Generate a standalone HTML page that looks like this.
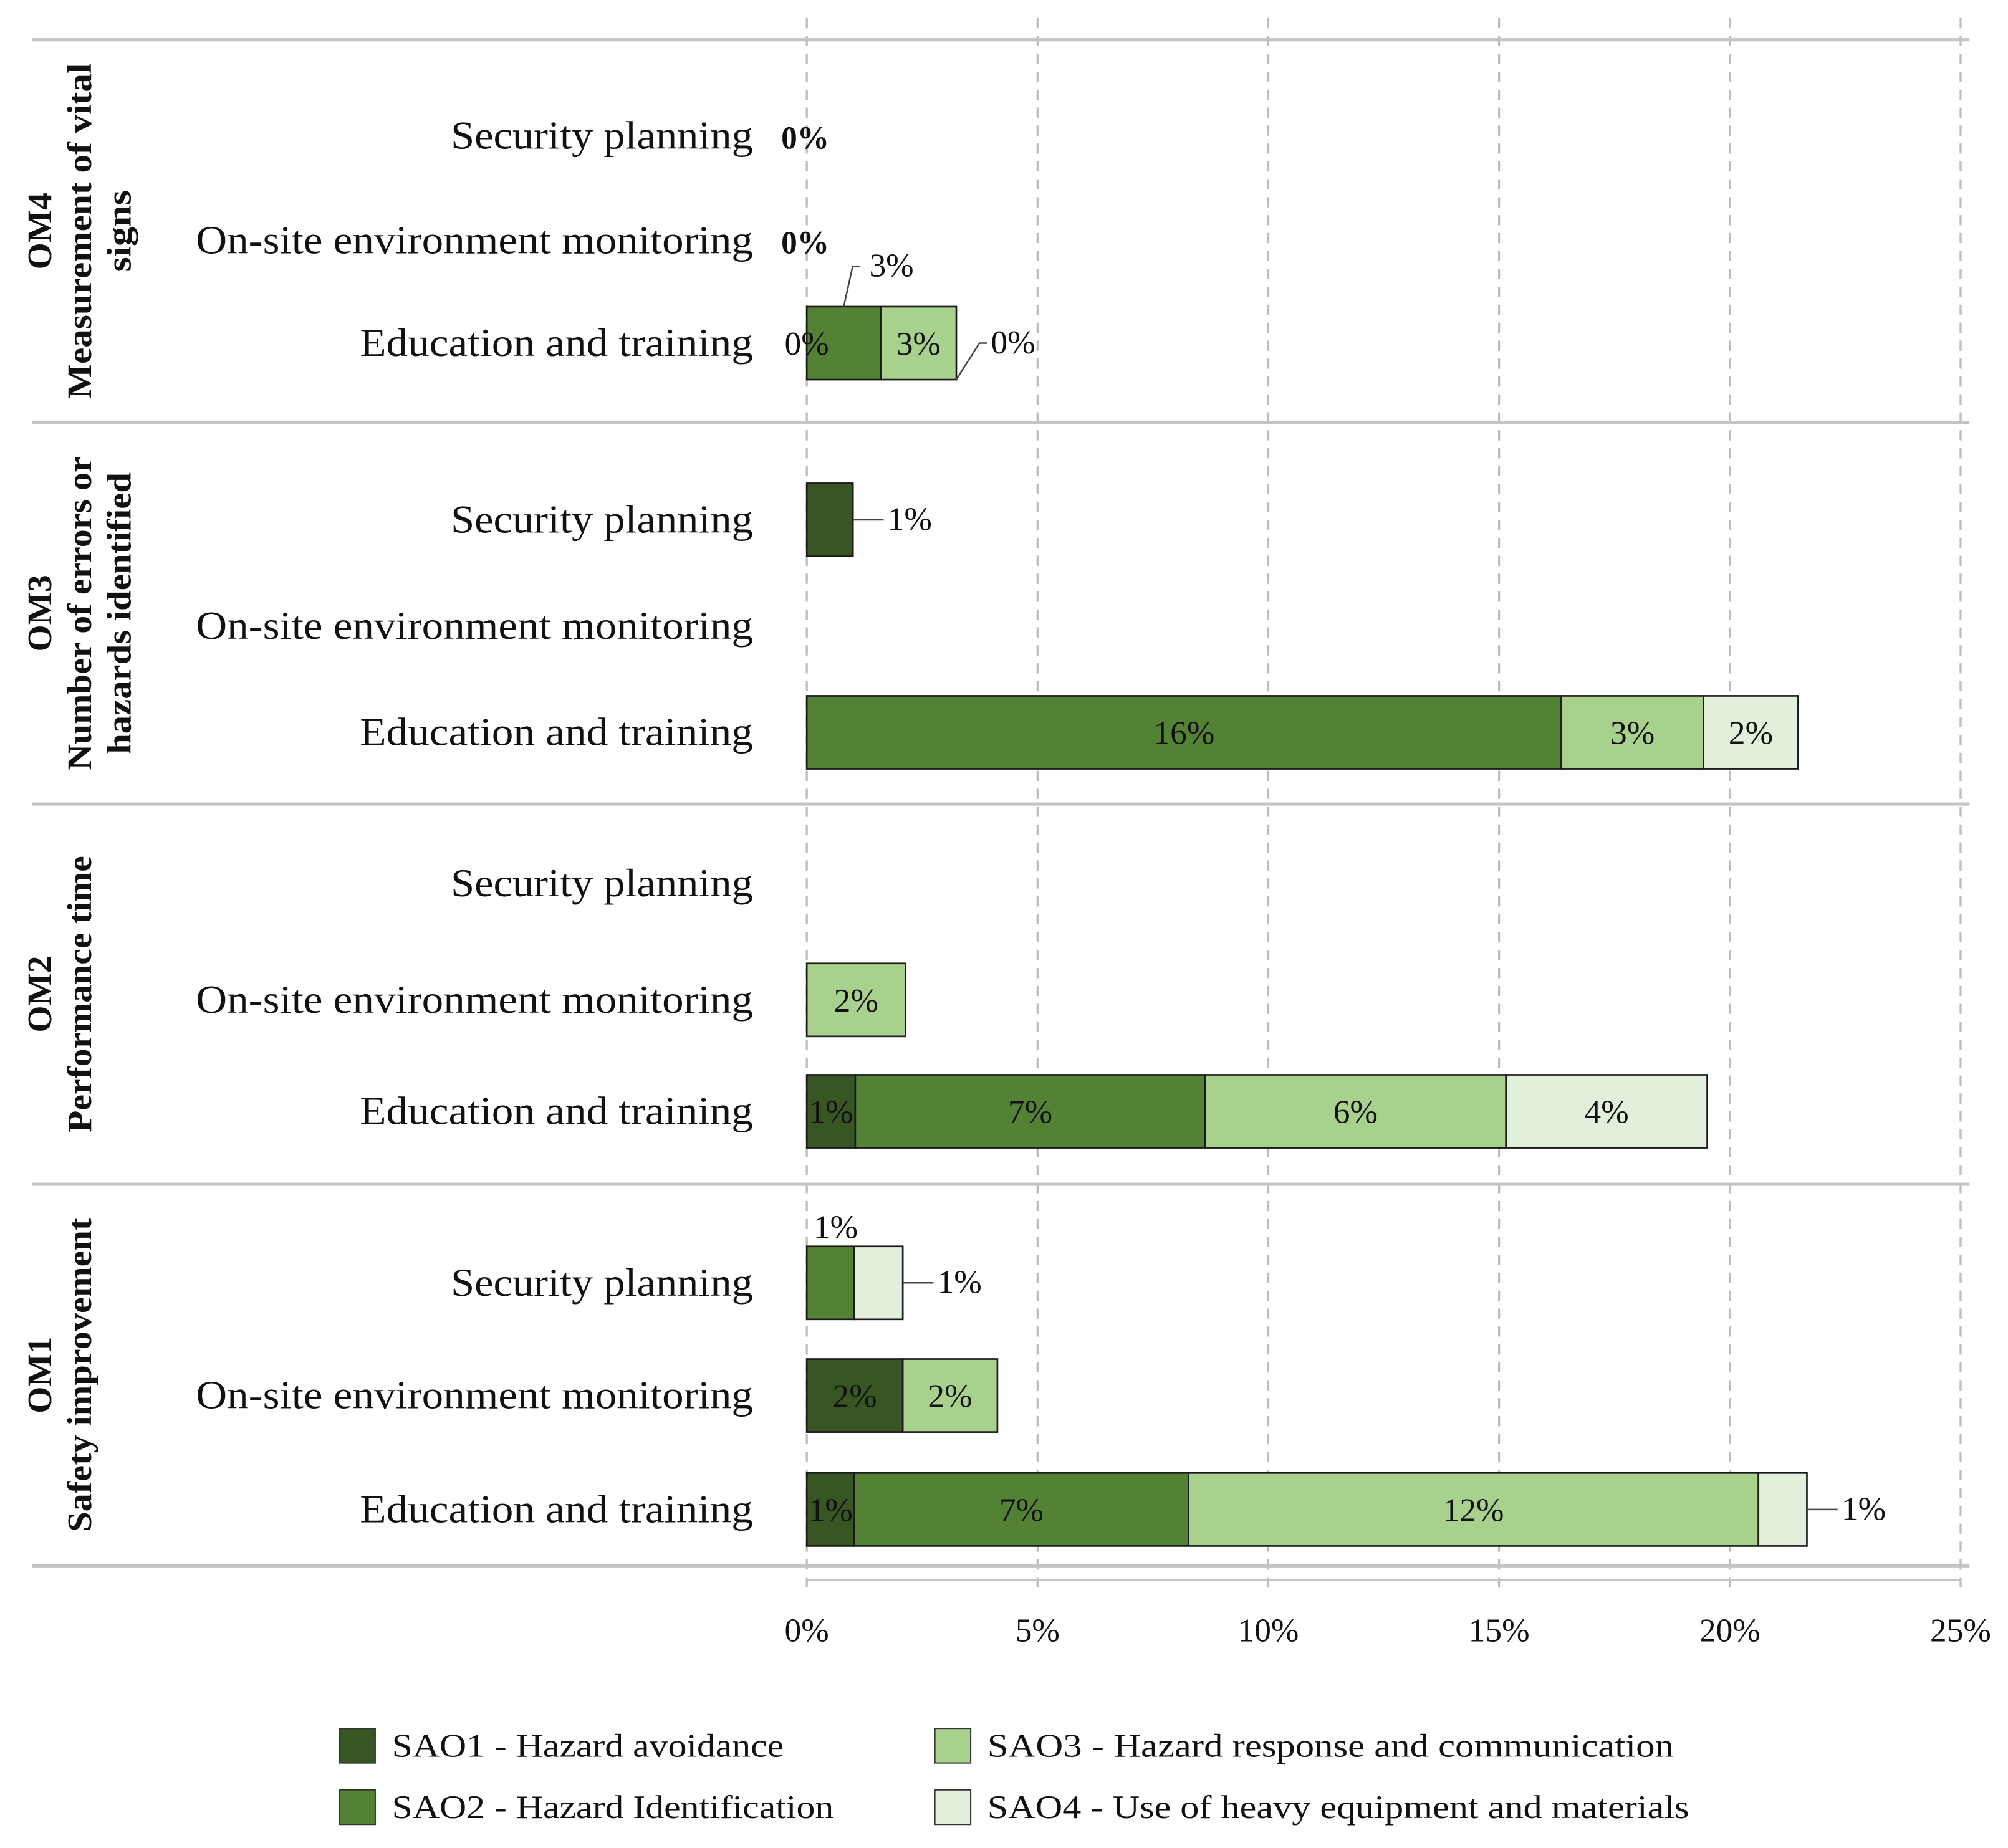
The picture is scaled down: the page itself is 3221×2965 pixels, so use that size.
<!DOCTYPE html>
<html><head><meta charset="utf-8">
<style>
html,body{margin:0;padding:0;background:#fff;}
svg{display:block;}
text{font-family:"Liberation Serif",serif;fill:#111;}
</style></head>
<body>
<svg id="chart" xmlns="http://www.w3.org/2000/svg" width="3221" height="2965" viewBox="0 0 1568 1443.4">
<rect x="0" y="0" width="1568" height="1444" fill="#fff"/>
<g id="grid"></g>
<g id="seps"></g>
<g id="bars"></g>
<g id="labels"></g>
<g id="ticks"></g>
<g id="groups"></g>
<g id="legend"></g>
</svg>
<script>
// ---- data ----
const categories = ["Security planning","On-site environment monitoring","Education and training"];
const groupNames = ["OM4","OM3","OM2","OM1"];
const groupDescs = [["Measurement of vital","signs"],["Number of errors or","hazards identified"],["Performance time"],["Safety improvement"]];
const seriesNames = ["SAO1 - Hazard avoidance","SAO2 - Hazard Identification","SAO3 - Hazard response and communication","SAO4 - Use of heavy equipment and materials"];
// values per row (group-major: OM4 SP, OM4 OSEM, OM4 ET, OM3 ..., OM1 ET)
const sao1 = [0,0,0, 1.0,0,0, 0,0,1.05, 0,2.08,1.03];
const sao2 = [0,0,1.6, 0,0,16.35, 0,0,7.58, 1.03,0,7.24];
const sao3 = [0,0,1.64, 0,0,3.08, 0,2.14,6.52, 0,2.05,12.35];
const sao4 = [0,0,0, 0,0,2.05, 0,0,4.36, 1.05,0,1.05];
const tickValues = [0,5,10,15,20,25];
const tickLabels = ["0%","5%","10%","15%","20%","25%"];
// labels printed per segment: [row, series, text]
const segLabels = [[2,0,"0%"],[2,2,"3%"],[5,1,"16%"],[5,2,"3%"],[5,3,"2%"],[7,2,"2%"],[8,0,"1%"],[8,1,"7%"],[8,2,"6%"],[8,3,"4%"],[10,0,"2%"],[10,2,"2%"],[11,0,"1%"],[11,1,"7%"],[11,2,"12%"]];
const zeroLabels = [[0,"0%"],[1,"0%"]];
// callouts: [row, series, text, side]
const callouts = [[2,1,"3%","top"],[2,3,"0%","right"],[3,0,"1%","right"],[9,1,"1%","top"],[9,3,"1%","right"],[11,3,"1%","right"]];

// ---- layout ----
const colors = ["#375623","#548235","#a9d18e","#e2efda"];
const X0 = 630, PX = 36.04;
const x = v => X0 + v * PX;
const rowCenters = [106,188,268, 406,489,572, 690,781,868, 1002,1090,1179];
const catWidths = [236,435,307];
const legWidths = [306,345,536,548];
const descWidths = [[262,64],[245,220],[216],[245]];
const barH = 57;
const sepYs = [31,330,628,925,1223];
const NS = "http://www.w3.org/2000/svg";
function mk(tag, attrs, parent){const e=document.createElementNS(NS,tag);for(const k in attrs)e.setAttribute(k,attrs[k]);parent.appendChild(e);return e;}
const G = id => document.getElementById(id);
const series = [sao1,sao2,sao3,sao4];

// gridlines
tickValues.forEach((t,i)=>{
  const l = mk("line",{x1:x(t),x2:x(t),y1:14,y2:1242,stroke:"#bdbdbd","stroke-width":1.6,"stroke-dasharray":"8,6"},G("grid"));
  
  
  const tl = mk("text",{x:x(t),y:1282,"text-anchor":"middle","font-size":26},G("ticks"));
  tl.textContent = tickLabels[i];
  
  
});
// separators
sepYs.forEach(y=>{
  const l = mk("line",{x1:25,x2:1538,y1:y,y2:y,stroke:"#c4c4c4","stroke-width":2.5},G("seps"));
  
  
});
const ax = mk("line",{x1:x(0),x2:x(25),y1:1234,y2:1234,stroke:"#c4c4c4","stroke-width":1.6},G("seps"));



// bars + category labels
const segBounds = [];
rowCenters.forEach((cy,r)=>{
  const cl = mk("text",{x:588,y:cy+10,"text-anchor":"end","font-size":31,textLength:catWidths[r%3],lengthAdjust:"spacingAndGlyphs"},G("labels"));
  cl.textContent = categories[r%3];
  
  
  let acc = 0; segBounds[r]=[];
  series.forEach((s,si)=>{
    const v = s[r];
    segBounds[r][si] = [acc, acc+v];
    if(v>0){
      const b = mk("rect",{x:x(acc),y:cy-barH/2,width:v*PX,height:barH,fill:colors[si],stroke:"#1a1a1a","stroke-width":1.3},G("bars"));
      
      
    }
    acc += v;
  });
});
segLabels.forEach(([r,si,t])=>{
  const [a,b] = segBounds[r][si];
  const tx = mk("text",{x:x((a+b)/2),y:rowCenters[r]+9,"text-anchor":"middle","font-size":26},G("labels"));
  tx.textContent = t;
  
  
});
zeroLabels.forEach(([r,t])=>{
  const tx = mk("text",{x:x(0)-20,y:rowCenters[r]+10,"font-size":25,"font-weight":"bold"},G("labels"));
  tx.textContent = t;
  
  
});
callouts.forEach(([r,si,t,side])=>{
  const [a,b] = segBounds[r][si];
  const cy = rowCenters[r];
  let tx;
  if(side==="top"){
    const mx = x((a+b)/2);
    if(r===2){
      const p = mk("polyline",{points:`${mx},${cy-barH/2} ${mx+7},${cy-60} ${mx+13},${cy-60}`,fill:"none",stroke:"#444","stroke-width":1.2},G("labels"));
      
      
      tx = mk("text",{x:mx+20,y:cy-52,"font-size":26},G("labels"));
    } else {
      tx = mk("text",{x:mx+4,y:cy-35,"text-anchor":"middle","font-size":26},G("labels"));
    }
  } else {
    const ex = x(b);
    const fromY = (r===2)? cy+barH/2 : cy;
    const p = mk("polyline",{points:`${ex},${fromY} ${ex+18},${cy} ${ex+24},${cy}`,fill:"none",stroke:"#444","stroke-width":1.2},G("labels"));
    
    
    tx = mk("text",{x:ex+27,y:cy+8,"font-size":26},G("labels"));
  }
  tx.textContent = t;
  
  
});

// group labels (rotated)
groupNames.forEach((g,i)=>{
  const cy = (sepYs[i]+sepYs[i+1])/2;
  const lines = [g].concat(groupDescs[i]);
  lines.forEach((ln,li)=>{
    const bx = 40 + li*31;
    const attrs = {x:0,y:0,"text-anchor":"middle","font-size":27,"font-weight":"bold",transform:`translate(${bx},${cy}) rotate(-90)`};
    if(li>0){attrs.textLength = descWidths[i][li-1]; attrs.lengthAdjust = "spacingAndGlyphs";}
    const t = mk("text",attrs,G("groups"));
    t.textContent = ln;
    
    
  });
});

// legend
const legPos = [[265,1350],[265,1398],[730,1350],[730,1398]];
seriesNames.forEach((nm,i)=>{
  const [lx,ly] = legPos[i];
  const r = mk("rect",{x:lx,y:ly,width:28,height:27,fill:colors[i],stroke:"#333","stroke-width":1},G("legend"));
  
  
  const t = mk("text",{x:lx+41,y:ly+22,"font-size":26,textLength:legWidths[i],lengthAdjust:"spacingAndGlyphs"},G("legend"));
  t.textContent = nm;
  
  
});
</script>
</body></html>
